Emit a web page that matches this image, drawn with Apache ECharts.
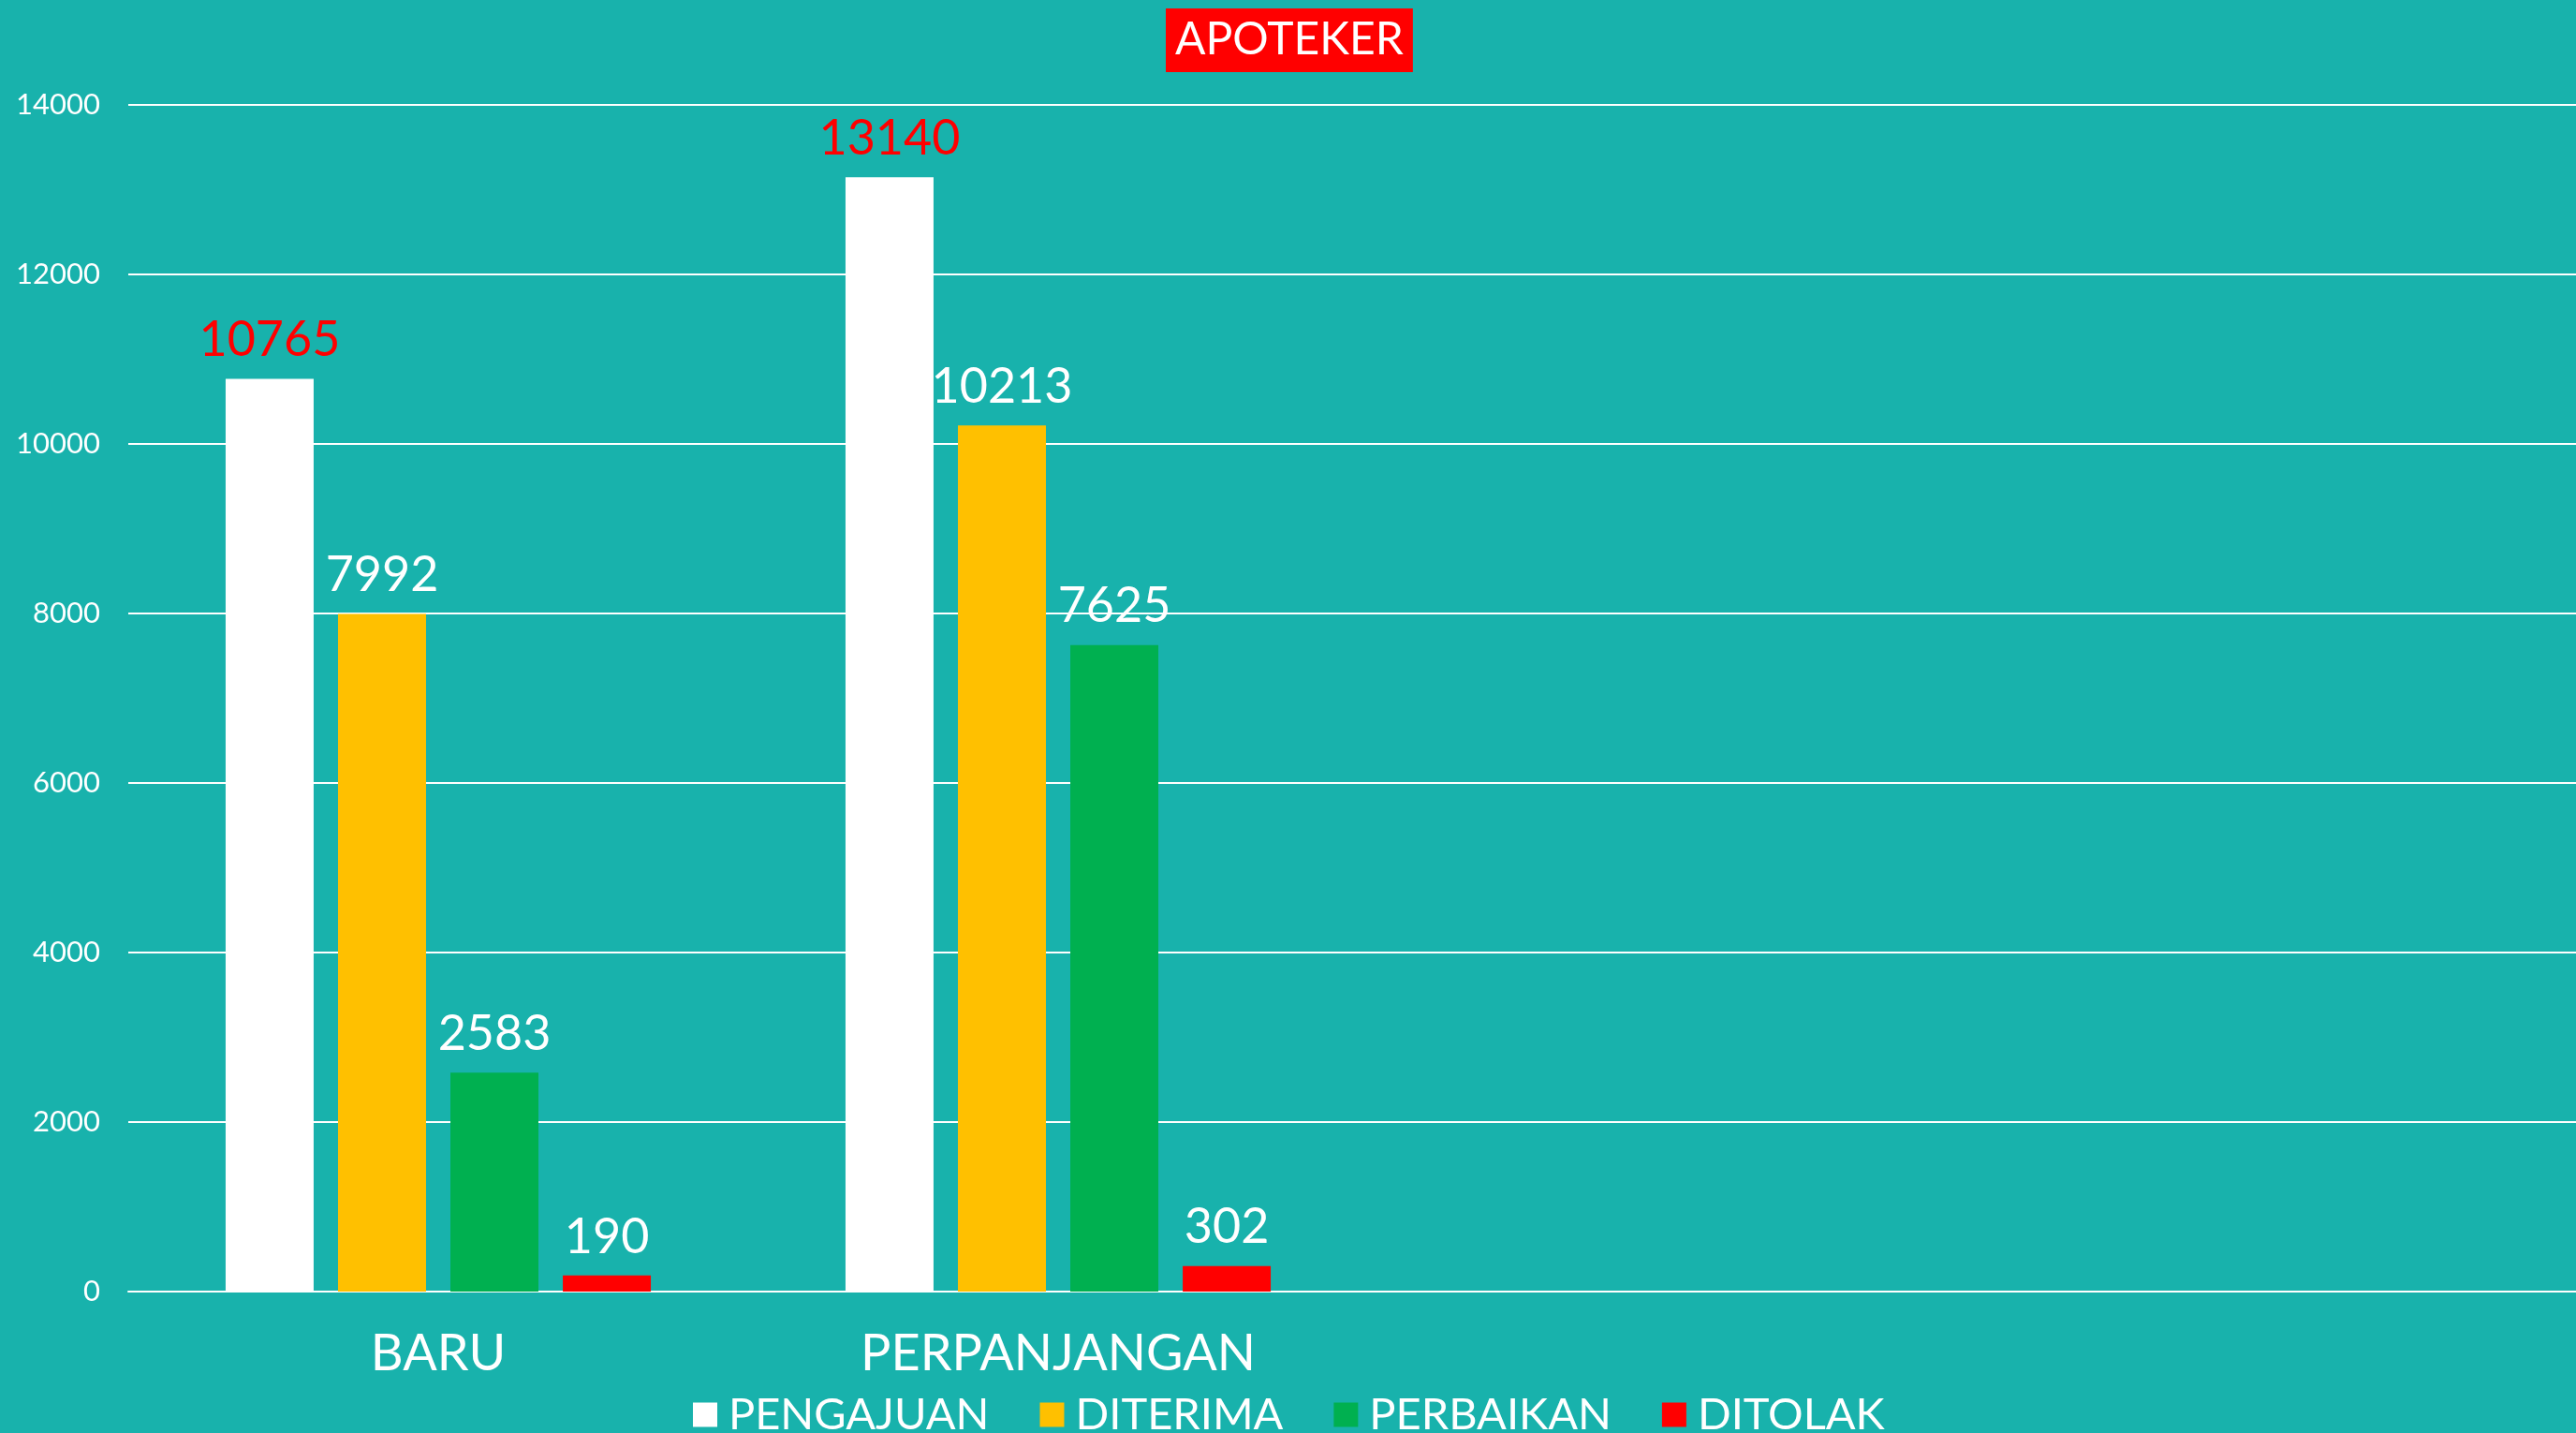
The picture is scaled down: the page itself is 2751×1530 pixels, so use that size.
<!DOCTYPE html>
<html>
<head>
<meta charset="utf-8">
<script src="https://cdn.jsdelivr.net/npm/echarts@6/dist/echarts.min.js"></script>
<style>
html,body{margin:0;padding:0;background:#18B2AC;overflow:hidden;width:2751px;height:1530px;}
#chart{width:2785px;height:1530px;}
</style>
</head>
<body>
<div id="chart"></div>
<script>
var categories = ['BARU', 'PERPANJANGAN', ' ', '  '];
var seriesNames = ['PENGAJUAN', 'DITERIMA', 'PERBAIKAN', 'DITOLAK'];
var pengajuan = [10765, 13140, null, null];
var diterima = [7992, 10213, null, null];
var perbaikan = [2583, 7625, null, null];
var ditolak = [190, 302, null, null];
var yTicks = { min: 0, max: 14000, interval: 2000 };
var titleText = 'APOTEKER';

var colors = ['#FFFFFF', '#FFC000', '#00B050', '#FF0000'];
var labelColors = ['#FF0000', '#FFFFFF', '#FFFFFF', '#FFFFFF'];
var values = [pengajuan, diterima, perbaikan, ditolak];
var FONT = 'Lato';

var chart = echarts.init(document.getElementById('chart'), null, { renderer: 'canvas' });
var series = seriesNames.map(function (name, i) {
  return {
    name: name,
    type: 'bar',
    data: values[i],
    barWidth: 94,
    barGap: '27.7%',
    itemStyle: { color: colors[i] },
    label: {
      show: true,
      position: 'top',
      distance: 15,
      color: labelColors[i],
      fontFamily: FONT,
      fontSize: 52
    }
  };
});

chart.setOption({
  backgroundColor: '#18B2AC',
  animation: false,
  title: {
    text: titleText,
    left: 1245,
    top: 9,
    backgroundColor: '#FF0000',
    padding: [10, 10, 10, 10],
    textStyle: { color: '#FFFFFF', fontFamily: FONT, fontWeight: 'normal', fontSize: 48 }
  },
  legend: {
    data: seriesNames,
    left: 735,
    top: 1482,
    icon: 'rect',
    itemWidth: 26,
    itemHeight: 26,
    itemGap: 54,
    textStyle: { color: '#FFFFFF', fontFamily: FONT, fontSize: 47, padding: [0, 0, 0, 7] }
  },
  grid: { left: 137, right: 0, top: 111.5, bottom: 151, containLabel: false },
  xAxis: {
    type: 'category',
    data: categories,
    axisLine: { show: true, lineStyle: { color: '#FFFFFF', width: 2 } },
    axisTick: { show: false },
    axisLabel: { color: '#FFFFFF', fontFamily: FONT, fontSize: 54, margin: 40 }
  },
  yAxis: {
    type: 'value',
    min: yTicks.min,
    max: yTicks.max,
    interval: yTicks.interval,
    axisLine: { show: false },
    axisTick: { show: false },
    splitLine: { show: true, lineStyle: { color: '#FFFFFF', width: 2 } },
    axisLabel: {
      color: '#FFFFFF', fontFamily: FONT, fontSize: 31, margin: 30,
      formatter: function (v) { return String(v); }
    }
  },
  series: series
});
</script>
</body>
</html>
